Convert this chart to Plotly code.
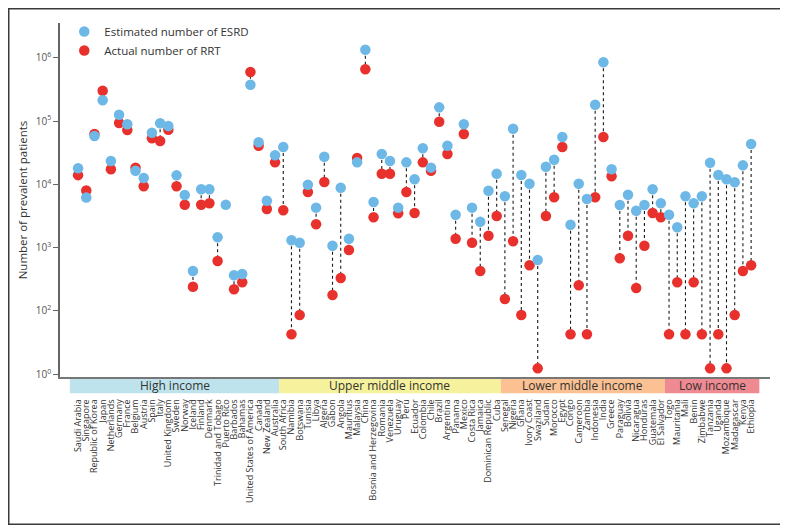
import plotly.graph_objects as go

countries = [
    "Saudi Arabia", "Singapore", "Republic of Korea", "Japan", "Netherlands", "Germany", "France",
    "Belgium", "Austria", "Spain", "Italy", "United Kingdom", "Sweden", "Norway", "Iceland", "Finland",
    "Denmark", "Trinidad and Tobago", "Puerto Rico", "Barbados", "Bahamas", "United States of America",
    "Canada", "New Zealand", "Australia",
    "South Africa", "Namibia", "Botswana", "Tunisia", "Libya", "Algeria", "Gabon", "Angola", "Mauritius",
    "Malaysia", "China", "Bosnia and Herzegovina", "Romania", "Venezuela", "Uruguay", "Peru", "Ecuador",
    "Colombia", "Chile", "Brazil", "Argentina", "Panama", "Mexico", "Costa Rica", "Jamaica",
    "Dominican Republic", "Cuba",
    "Senegal", "Nigeria", "Ghana", "Ivory Coast", "Swaziland", "Sudan", "Morocco", "Egypt", "Congo",
    "Cameroon", "Zambia", "Indonesia", "India", "Greece", "Paraguay", "Bolivia", "Nicaragua", "Honduras",
    "Guatemala", "El Salvador",
    "Togo", "Mauritania", "Mali", "Benin", "Zimbabwe", "Tanzania", "Uganda", "Mozambique", "Madagascar",
    "Kenya", "Ethiopia",
]

income_groups = ["High income", "Upper middle income", "Lower middle income", "Low income"]
group_sizes = [25, 27, 20, 11]
group_colors = ["#BFE3EC", "#F5F19C", "#FBC192", "#F08A92"]

esrd = [
    18000, 6200, 58200, 213000, 23400, 126000, 89000, 16400, 12600, 65600, 92300, 83700, 13900, 6800,
    428, 8370, 8370, 1460, 4780, 366, 384, 376000, 46200, 5530, 28900,
    39000, 1310, 1200, 9860, 4290, 27400, 1075, 8870, 1387, 22300, 1343000, 5270, 30200, 23400, 4290,
    22300, 12050, 37200, 18400, 165000, 40900, 3320, 89000, 4290, 2576, 7950, 14760,
    6510, 75900, 14090, 10260, 640, 19050, 24550, 56100, 2310, 10260, 5880, 181600, 849000, 17300,
    4730, 6870, 3840, 4730, 8390, 5030,
    3320, 2100, 6500, 5030, 6500, 22000, 14090, 12050, 10800, 20000, 43500,
]

rrt = [
    14000, 8000, 62500, 302000, 17300, 93300, 72300, 18400, 9330, 53500, 48500, 73100, 9370, 4780,
    242, 4780, 5030, 617, None, 220, 284, 597000, 40900, 4090, 22300,
    3900, 42.8, 86.5, 7590, 2340, 10900, 179, 332, 920, 26100, 658000, 3020, 14760, 14760, 3490,
    7590, 3530, 22300, 16400, 97900, 30200, 1387, 62500, 1200, 428, 1548, 3170,
    155, 1262, 86.5, 527, 12.4, 3170, 6250, 39000, 42.8, 255, 42.8, 6250, 56100, 13430,
    680, 1548, 231, 1075, 3530, 3020,
    42.8, 284, 42.8, 284, 42.8, 12.4, 42.8, 12.4, 86.5, 428, 527,
]

ytick_vals = [10, 100, 1000, 10000, 100000, 1000000]
ytick_text = ["10<sup>0</sup>", "10<sup>2</sup>", "10<sup>3</sup>", "10<sup>4</sup>",
              "10<sup>5</sup>", "10<sup>6</sup>"]

BLUE = "#6DB8E6"
RED = "#E8312D"
FONT = "Open Sans"

xs = list(range(len(countries)))

# dotted connectors
lx, ly = [], []
for i, (b, r) in enumerate(zip(esrd, rrt)):
    if b is not None and r is not None:
        lx += [i, i, None]
        ly += [b, r, None]

fig = go.Figure()
fig.add_trace(go.Scatter(x=lx, y=ly, mode="lines", showlegend=False, hoverinfo="skip",
                         line=dict(color="#1a1a1a", width=1.1, dash="dot")))
fig.add_trace(go.Scatter(x=xs, y=rrt, mode="markers", name="Actual number of RRT",
                         marker=dict(color=RED, size=10.5, line=dict(width=0))))
fig.add_trace(go.Scatter(x=xs, y=esrd, mode="markers", name="Estimated number of ESRD",
                         marker=dict(color=BLUE, size=10.5, line=dict(width=0))))

# income bands below the axis
shapes = []
annotations = []
start = 0
n_groups = len(income_groups)
for g, (name, size, col) in enumerate(zip(income_groups, group_sizes, group_colors)):
    x0 = start - 0.5 - (0.5 if g == 0 else 0)
    x1 = start + size - 0.5 + (0.5 if g == n_groups - 1 else 0)
    shapes.append(dict(type="rect", xref="x", yref="paper", x0=x0, x1=x1, y0=-0.046, y1=-0.002,
                       fillcolor=col, line=dict(width=0), layer="below"))
    annotations.append(dict(x=(x0 + x1) / 2, y=-0.024, xref="x", yref="paper", text=name,
                            showarrow=False, xanchor="center", yanchor="middle",
                            font=dict(family=FONT, size=12, color="#333333")))
    start += size

# figure size (page body adds an 8px offset)
W, H, L, R, T, B = 780, 517, 52, 18, 15, 148
pw, ph = W - L - R, H - T - B
shapes.append(dict(type="rect", xref="paper", yref="paper",
                   x0=(0.75 - L) / pw, x1=(W - 0.75 - L) / pw,
                   y0=(ph + T - (H - 0.75)) / ph, y1=(ph + T - 0.75) / ph,
                   line=dict(color="#3a3a3a", width=1.5), fillcolor="rgba(0,0,0,0)"))

fig.update_layout(
    width=W, height=H,
    margin=dict(l=L, r=R, t=T, b=B, autoexpand=False),
    paper_bgcolor="white", plot_bgcolor="white",
    font=dict(family=FONT, color="#333333"),
    shapes=shapes, annotations=annotations,
    legend=dict(x=0.006, y=1.017, xanchor="left", yanchor="top", traceorder="reversed",
                font=dict(family=FONT, size=11.5, color="#333333"), bgcolor="rgba(0,0,0,0)",
                itemwidth=30, tracegroupgap=0),
    showlegend=True,
)
fig.update_xaxes(
    range=[-2.2, 84.3], tickmode="array", tickvals=xs, ticktext=countries, tickangle=-90,
    showgrid=False, zeroline=False, showline=True, linecolor="#777777", linewidth=1.5,
    ticks="", ticklabelstandoff=17, automargin=False,
    tickfont=dict(family=FONT, size=9, color="#333333"),
)
fig.update_yaxes(
    type="log", range=[0.957, 6.55], tickmode="array", tickvals=ytick_vals, ticktext=ytick_text,
    showgrid=False, zeroline=False, showline=True, linecolor="#666666", linewidth=1.5,
    ticks="outside", ticklen=5, tickcolor="#666666", tickwidth=1, automargin=False,
    tickfont=dict(family=FONT, size=10, color="#555555"),
    title=dict(text="Number of prevalent patients", standoff=6,
               font=dict(family=FONT, size=11.5, color="#333333")),
)

fig.write_html("out.html")
